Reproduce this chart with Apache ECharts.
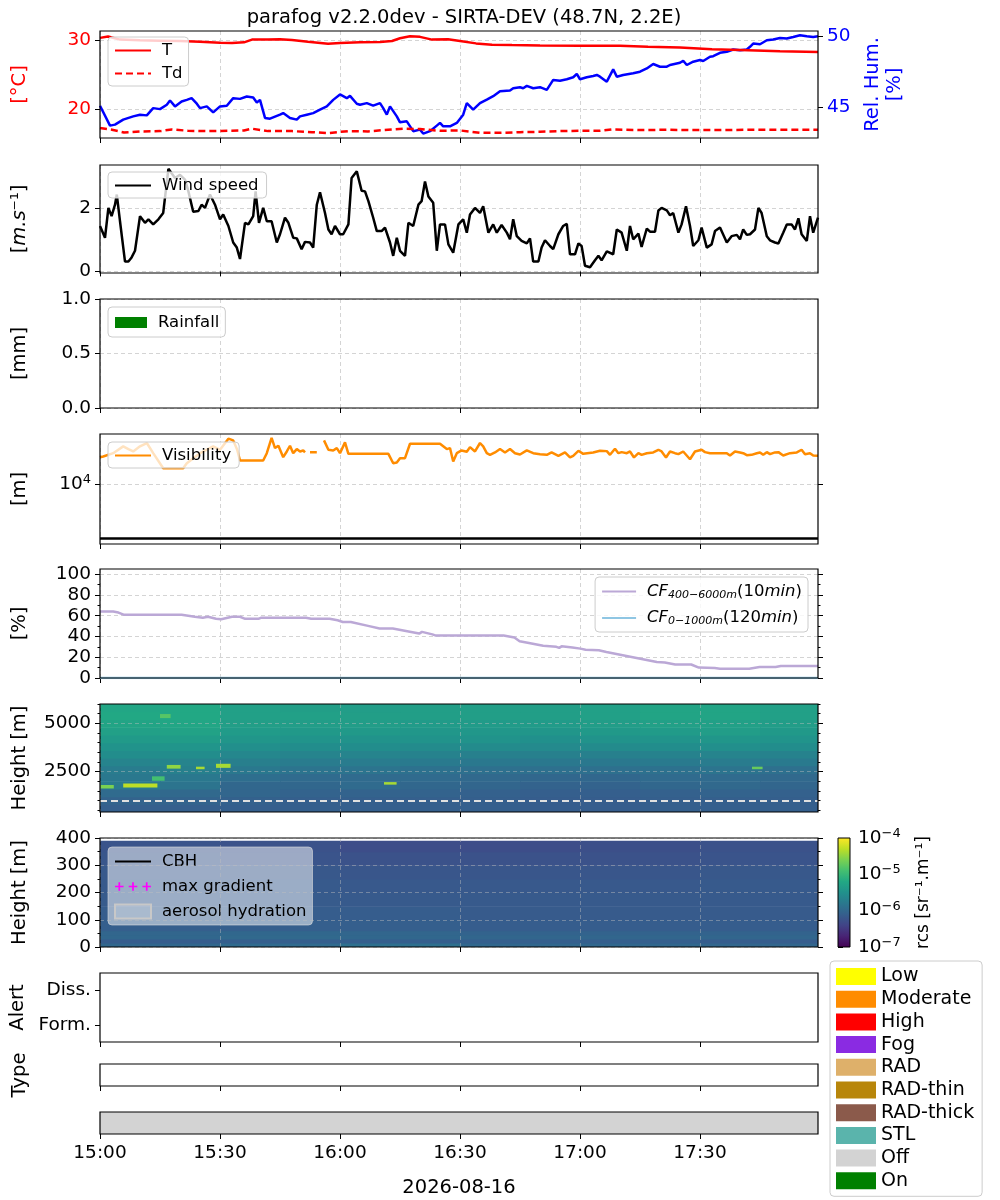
<!DOCTYPE html>
<html>
<head>
<meta charset="utf-8">
<title>parafog SIRTA-DEV</title>
<script src="https://cdn.jsdelivr.net/npm/echarts@6.0.0/dist/echarts.min.js"></script>
<style>
  html, body { margin: 0; padding: 0; background: #fff; }
  #chart { width: 1000px; height: 1200px; }
</style>
</head>
<body>
<div id="chart"></div>
<script>
// ---- values (time = minutes after 15:00) ----
var xTickValues = [0, 30, 60, 90, 120, 150];
var xTickLabels = ['15:00', '15:30', '16:00', '16:30', '17:00', '17:30'];
var xEnd = 179.5;
var dateLabel = '2026-08-16';
var titleText = 'parafog v2.2.0dev - SIRTA-DEV (48.7N, 2.2E)';

var tempTime = [0, 2, 5, 10, 15, 20, 25, 30, 33, 36, 38, 42, 45, 48, 52, 57, 60, 65, 70, 73, 75, 77.5, 80, 83, 87, 90, 94, 98, 103, 110, 120, 130, 137, 145, 153, 160, 170, 179.5];
var tempVals = [30.35, 30.55, 30.1, 30.0, 29.95, 29.9, 29.8, 29.65, 29.6, 29.7, 30.1, 30.1, 30.15, 30.05, 29.8, 29.5, 29.6, 29.7, 29.75, 29.9, 30.3, 30.6, 30.5, 30.1, 30.15, 29.9, 29.55, 29.35, 29.3, 29.25, 29.2, 29.2, 29.05, 28.95, 28.7, 28.6, 28.4, 28.3];

var dewTime = [0, 3, 6, 10, 15, 18, 22, 27, 32, 36, 38, 42, 48, 53, 57, 62, 67, 72, 76, 80, 85, 90, 95, 100, 105, 110, 115, 120, 125, 128, 135, 142, 148, 155, 162, 170, 179.5];
var dewVals = [17.25, 17.0, 16.6, 16.75, 16.8, 17.05, 16.85, 16.8, 16.85, 16.9, 17.15, 16.8, 16.8, 16.65, 16.5, 16.8, 16.75, 17.0, 17.15, 17.1, 16.85, 16.9, 16.55, 16.55, 16.65, 16.7, 16.8, 16.85, 16.85, 17.05, 16.95, 17.0, 16.95, 16.95, 17.0, 17.0, 17.0];

var rhTime = [0, 2.5, 3.75, 5.8, 8.3, 10, 11.7, 13.3, 15, 16.7, 17.5, 18.75, 20.4, 21.7, 22.9, 24.2, 25, 26.7, 28.3, 30, 31.7, 33.3, 35, 36.7, 38.3, 39.2, 40, 41.25, 42.5, 45, 45.8, 47.5, 49.2, 50, 51.7, 53.3, 55, 56.7, 58.3, 60, 61.7, 62.5, 64.2, 65, 66.7, 68.3, 70, 70.8, 71.7, 72.5, 74.2, 75, 76.7, 78.3, 80, 80.8, 82.5, 84.2, 85, 85.8, 87.5, 89.2, 90.8, 91.7, 93.3, 95, 96.7, 98.3, 100, 102.5, 103.3, 105, 105.8, 106.7, 108.3, 110, 111.7, 113.3, 115, 116.7, 118.3, 119.2, 120, 121.7, 123.3, 124.2, 125, 126.7, 128.3, 129.2, 130.8, 133.3, 135, 136.7, 138.3, 140, 141.7, 142.5, 145, 145.8, 146.7, 148.3, 150, 150.8, 152.5, 153.3, 155, 156.7, 158.3, 160, 161.7, 162.5, 163.3, 165, 166.7, 168.3, 170, 171.7, 173.3, 175, 176.7, 178.3, 179.5];
var rhVals = [45.12, 43.72, 43.79, 44.14, 44.37, 44.49, 44.44, 44.95, 44.88, 45.19, 45.49, 45.07, 45.42, 45.53, 45.65, 45.26, 44.95, 45.07, 44.65, 45.07, 45.12, 45.65, 45.6, 45.77, 45.7, 45.35, 45.53, 44.26, 44.21, 44.49, 44.6, 44.26, 44.14, 44.37, 44.49, 44.6, 44.84, 45.07, 45.53, 45.91, 45.65, 45.81, 45.26, 45.19, 45.3, 45.12, 45.3, 44.95, 44.49, 45.07, 44.37, 43.95, 44.02, 43.33, 43.44, 43.16, 43.33, 43.72, 43.91, 43.67, 43.67, 43.91, 44.49, 45.3, 44.84, 45.3, 45.55, 45.79, 46.14, 46.19, 46.35, 46.42, 46.35, 46.51, 46.35, 46.42, 46.23, 46.93, 46.88, 46.98, 47.12, 47.35, 46.98, 47.12, 47.21, 47.28, 47.16, 46.81, 47.67, 47.16, 47.28, 47.4, 47.51, 47.74, 48.05, 47.86, 47.86, 47.98, 48.14, 48.28, 47.98, 48.21, 48.33, 48.26, 48.56, 48.6, 48.84, 48.91, 49.07, 49.02, 49.07, 49.26, 49.49, 49.44, 49.72, 49.77, 49.88, 49.84, 49.95, 50.07, 50.0, 49.95, 50.0];

var windTime = [0, 1.25, 2.1, 2.9, 3.75, 4.2, 5, 6.25, 7.1, 7.9, 8.75, 10, 11.25, 12.1, 13.3, 14.6, 15.8, 16.25, 17.1, 17.9, 18.75, 20, 21.25, 22.1, 23.3, 24.6, 25.4, 26.25, 27.5, 28.75, 30, 30.8, 32.1, 33.3, 34.2, 35, 36.25, 37.1, 38.3, 38.9, 39.75, 40.8, 41.7, 42.9, 44.2, 45, 46.25, 47.1, 48.3, 49.2, 50.4, 51.25, 52.5, 53.3, 54.2, 55, 56.25, 57.1, 57.9, 58.75, 60, 60.8, 62.1, 62.9, 64.2, 65.4, 66.25, 67.1, 68.3, 69.2, 70.4, 71.25, 72.5, 73.3, 74.2, 75, 76.25, 77.1, 78.3, 79.6, 80.4, 81.25, 82.1, 83.3, 84.2, 85, 86.25, 87.1, 88.3, 89.6, 90.8, 91.7, 92.5, 93.75, 95, 95.8, 97.1, 98.3, 99.2, 100.4, 101.7, 102.5, 103.3, 104.2, 105.4, 106.7, 107.5, 108.3, 109.6, 110.4, 111.25, 112.5, 113.3, 114.6, 115.8, 116.7, 117.5, 118.75, 119.6, 120.4, 121.25, 122.5, 123.75, 124.6, 125.4, 126.7, 128.3, 129.2, 130.4, 131.7, 132.5, 133.3, 134.6, 135.4, 136.7, 137.5, 138.75, 139.6, 140.4, 141.7, 142.5, 143.3, 144.6, 145.4, 146.5, 147.5, 148.3, 149.6, 150.4, 151.7, 152.9, 153.75, 155, 156.7, 157.9, 159.2, 160, 160.8, 161.7, 162.5, 163.75, 164.6, 165.4, 166.7, 167.5, 168.75, 169.6, 170.8, 171.7, 172.9, 173.75, 174.6, 175.4, 176.7, 177.5, 178.3, 179.5];
var windVals = [1.43, 1.06, 2.0, 1.74, 2.1, 2.42, 1.58, 0.31, 0.31, 0.44, 0.65, 1.74, 1.53, 1.64, 1.48, 1.64, 1.84, 1.9, 3.23, 3.09, 2.94, 3.04, 2.89, 2.52, 1.88, 1.9, 2.1, 2.0, 2.42, 2.1, 1.64, 1.79, 1.43, 0.91, 0.75, 0.39, 1.53, 1.48, 1.74, 2.52, 1.53, 2.0, 1.58, 1.58, 0.91, 1.17, 1.69, 1.53, 1.06, 1.04, 0.7, 0.93, 0.91, 0.75, 2.1, 2.49, 1.84, 1.32, 1.17, 1.43, 1.17, 1.17, 1.48, 2.94, 3.15, 2.54, 2.52, 2.21, 1.69, 1.27, 1.27, 1.38, 0.91, 0.49, 1.06, 0.65, 0.49, 1.53, 1.43, 2.1, 2.21, 2.83, 2.36, 2.16, 0.65, 1.48, 1.48, 0.85, 0.59, 1.48, 1.64, 1.22, 1.79, 2.0, 1.84, 2.05, 1.22, 1.48, 1.22, 1.46, 1.22, 1.01, 1.64, 1.11, 0.96, 0.88, 1.04, 0.31, 0.31, 0.75, 0.98, 0.8, 0.7, 1.17, 1.43, 1.5, 0.54, 0.54, 0.88, 0.8, 0.18, 0.13, 0.35, 0.49, 0.35, 0.63, 0.54, 1.32, 1.22, 0.65, 1.43, 1.01, 1.19, 0.77, 1.35, 1.25, 1.25, 1.92, 2.0, 1.92, 1.77, 1.84, 1.22, 1.48, 2.05, 1.43, 0.8, 0.98, 1.38, 0.75, 0.85, 1.27, 1.38, 0.91, 1.11, 1.15, 1.01, 1.32, 1.15, 1.17, 1.32, 2.0, 1.84, 1.11, 0.98, 0.91, 0.88, 1.22, 1.48, 1.48, 1.32, 1.67, 1.17, 0.96, 1.74, 1.22, 1.69];

var rainTime = [];
var rainVals = [];

// visibility in metres, null = missing
var visTime = [0, 0.8, 3.3, 5.8, 7.1, 8.3, 10, 11.7, 13.3, 15.8, 20.8, 21.7, 25, 28.3, 30, 32.1, 33.3, 34.3, 35, 40.8, 41.7, 42.9, 43.75, 44.6, 45.8, 46.7, 47.5, 48.3, 49.2, 50, 50.8, 51.25, 52, 52.5, 54.2, 55, 56, 57.1, 58.3, 59.2, 60, 61.25, 62.1, 72.1, 73.3, 74.2, 75, 76.25, 77.5, 85, 86.7, 87.5, 88.3, 89.2, 90.4, 91.7, 92.5, 93.75, 95, 95.8, 96.7, 97.5, 98.75, 100, 101.25, 102.5, 103.75, 105, 106.7, 108.3, 110, 111.7, 112.9, 114.6, 116.25, 117.5, 118.3, 119.6, 120.8, 123.3, 125, 126.7, 127.5, 128.75, 129.6, 130.4, 131.7, 132.5, 133.5, 134.6, 135.4, 136.7, 138.3, 139.6, 140.4, 141.5, 142.5, 143.75, 144.6, 145.8, 147.5, 148.75, 150.4, 151.25, 152.5, 155, 156.7, 157.5, 158.75, 160, 160.8, 161.7, 162.9, 164.2, 165, 165.8, 166.7, 167.5, 168.75, 169.6, 170.8, 172.5, 174.2, 175.4, 176.25, 177.5, 178.3, 179.5];
var visVals = [31400, 32300, 37200, 49700, 44300, 40000, 49700, 57300, 37200, 19600, 19600, 24300, 37200, 49700, 43000, 69000, 64100, 43000, 27200, 27200, 37200, 71000, 46200, 51000, 31400, 40000, 51000, 37200, 44300, 40000, 41800, 38400, null, 38900, 38900, null, 64100, 43000, 41800, 46200, 37200, 58900, 36200, 36200, 24300, 25000, 30100, 30100, 55600, 55600, 44300, 46200, 26100, 37200, 41800, 39500, 48200, 40000, 57300, 49700, 37200, 34700, 38400, 44300, 38400, 44300, 37200, 35200, 41800, 37200, 35700, 34700, 38400, 33300, 38400, 31000, 33300, 41200, 36200, 38400, 41200, 40600, 34700, 44900, 37200, 38900, 37200, 40000, 31000, 37200, 34700, 37200, 38400, 43000, 40000, 31000, 40000, 37200, 35700, 40000, 28800, 40000, 43000, 38900, 37200, 37200, 37200, 33700, 40000, 38400, 37200, 34200, 34700, 37200, 38400, 34700, 38900, 35700, 38400, 38900, 33700, 37200, 38400, 43000, 35700, 37200, 33700, 33300];
var fogVisThreshold = 1000;

var cfTime = [0, 3.3, 4.6, 5.9, 20.4, 23.7, 25.7, 27, 29, 30.3, 33, 35, 36.3, 39.6, 40.2, 51.5, 52.8, 57.4, 59.4, 60.7, 62.7, 67.3, 69.9, 73.2, 77.8, 79.8, 80.5, 83.1, 83.8, 100.9, 103.6, 104.9, 106.9, 110.8, 114.1, 114.8, 115.4, 118.1, 120.1, 121.4, 124.7, 126.6, 133.2, 139.2, 141.2, 143.8, 147.8, 149.7, 153.7, 155, 162.3, 164.9, 168.9, 170.2, 179.5];
var cfVals = [64, 64, 63, 61, 61, 59, 58, 59, 57, 56.6, 59, 59, 57, 57, 58, 58, 57, 57, 55.6, 54, 54, 50, 47.6, 47.6, 44.4, 42.8, 44.4, 42, 41, 41, 39, 35.4, 34, 31, 30, 29, 30.5, 29.3, 28.3, 27.3, 26.7, 25, 20, 15.4, 15, 13, 13, 10, 9.6, 9, 9, 10.6, 10.6, 11.6, 11.6];
var cfLowTime = [0, 179.5];
var cfLowVals = [0, 0];

// lidar range-corrected signal, log10 values, cells: time bins x height bins
var lidarTimeBounds = [0, 15, 30, 45, 60, 75, 90, 105, 120, 135, 150, 165, 180];
var lidarHighBounds = [400, 800, 1200, 1600, 2000, 2400, 2800, 3200, 3600, 4000, 4400, 4800, 5200, 5600, 6000];
var lidarHighLog = [
  [-6.10, -6.10, -6.10, -6.10, -6.10, -6.10, -6.10, -6.12, -6.12, -6.10, -6.10, -6.10],
  [-6.05, -6.05, -6.08, -6.10, -6.10, -6.10, -6.10, -6.12, -6.12, -6.10, -6.10, -6.10],
  [-5.95, -5.98, -6.02, -6.05, -6.05, -6.05, -6.08, -6.10, -6.10, -6.08, -6.05, -6.08],
  [-5.78, -5.85, -6.00, -6.00, -5.95, -6.00, -6.02, -6.05, -6.05, -6.00, -5.98, -6.02],
  [-5.80, -5.80, -5.92, -5.95, -5.95, -5.95, -5.98, -6.00, -6.00, -5.95, -5.95, -5.98],
  [-5.75, -5.70, -5.80, -5.85, -5.85, -5.88, -5.90, -5.90, -5.90, -5.88, -5.85, -5.90],
  [-5.65, -5.65, -5.72, -5.75, -5.75, -5.78, -5.80, -5.80, -5.80, -5.78, -5.75, -5.78],
  [-5.55, -5.55, -5.62, -5.65, -5.65, -5.68, -5.70, -5.70, -5.70, -5.68, -5.65, -5.68],
  [-5.47, -5.45, -5.52, -5.55, -5.55, -5.57, -5.57, -5.59, -5.57, -5.55, -5.52, -5.55],
  [-5.38, -5.36, -5.44, -5.46, -5.48, -5.48, -5.48, -5.51, -5.48, -5.46, -5.44, -5.46],
  [-5.30, -5.28, -5.37, -5.40, -5.40, -5.42, -5.42, -5.43, -5.40, -5.37, -5.35, -5.40],
  [-5.25, -5.22, -5.33, -5.35, -5.35, -5.37, -5.37, -5.37, -5.35, -5.30, -5.30, -5.35],
  [-5.20, -5.20, -5.30, -5.30, -5.33, -5.33, -5.33, -5.33, -5.30, -5.25, -5.25, -5.30],
  [-5.23, -5.20, -5.30, -5.33, -5.35, -5.33, -5.33, -5.33, -5.30, -5.25, -5.25, -5.30]
];
// bright returns: [t0, t1, h0, h1, log10]
var lidarSpots = [
  [0, 3.3, 1650, 1800, -4.6],
  [5.8, 14.2, 1700, 1880, -4.3],
  [13, 16, 2050, 2250, -4.9],
  [16.7, 20, 2680, 2840, -4.5],
  [24, 26, 2650, 2750, -4.4],
  [29, 32.5, 2720, 2900, -4.4],
  [15, 17.5, 5300, 5480, -4.8],
  [71, 74, 1850, 1950, -4.4],
  [163, 165.5, 2650, 2750, -4.7]
];
var lidarRefHeight = 1000;

var lidarLowTimeBounds = [0, 30, 60, 90, 120, 150, 180];
var lidarLowBounds = [0, 15, 30, 45, 60, 100, 150, 200, 250, 300, 350, 390];
var lidarLowLog = [
  [-6.00, -5.95, -5.90, -6.00, -6.00, -6.02],
  [-6.12, -6.10, -6.10, -6.10, -6.10, -6.12],
  [-6.00, -5.98, -6.00, -6.02, -6.02, -6.02],
  [-6.02, -6.00, -6.02, -6.05, -6.05, -6.05],
  [-6.10, -6.10, -6.10, -6.12, -6.12, -6.12],
  [-6.12, -6.12, -6.12, -6.14, -6.14, -6.14],
  [-6.14, -6.14, -6.15, -6.15, -6.15, -6.15],
  [-6.15, -6.16, -6.17, -6.17, -6.17, -6.16],
  [-6.17, -6.18, -6.20, -6.20, -6.20, -6.18],
  [-6.20, -6.22, -6.25, -6.25, -6.25, -6.22],
  [-6.22, -6.25, -6.30, -6.30, -6.28, -6.25]
];
var cbTickValues = [-7, -6, -5, -4];
var cbTickExp = ['−7', '−6', '−5', '−4'];

var alertLevels = ['Form.', 'Diss.'];
var statusStart = [0];
var statusEnd = [179.5];
var statusState = ['Off'];

var stateNames = ['Low', 'Moderate', 'High', 'Fog', 'RAD', 'RAD-thin', 'RAD-thick', 'STL', 'Off', 'On'];
var stateColors = ['#ffff00', '#ff8c00', '#ff0000', '#8a2be2', '#deb06a', '#b8860b', '#8b5a4b', '#5ab4ac', '#d3d3d3', '#008000'];

var viridis = ['#440154', '#482475', '#414487', '#355f8d', '#2a788e', '#21918c', '#22a884', '#44bf70', '#7ad151', '#bddf26', '#fde725'];

// ---- helpers ----
function zip(xs, ys) {
  return xs.map(function (x, i) { return [x, ys[i] === null ? '-' : ys[i]]; });
}
function cells(tb, hb, rows) {
  var out = [];
  rows.forEach(function (row, i) {
    row.forEach(function (v, j) { out.push([tb[j], tb[j + 1], hb[i], hb[i + 1], v]); });
  });
  return out;
}
function cellItem(params, api) {
  var a = api.coord([api.value(0), api.value(3)]);
  var b = api.coord([api.value(1), api.value(2)]);
  return {
    type: 'rect',
    shape: { x: a[0], y: a[1], width: b[0] - a[0] + 0.6, height: b[1] - a[1] + 0.6 },
    style: { fill: api.visual('color') }
  };
}

var FONT = 'DejaVu Sans';
var TICK_FS = 18.5, NAME_FS = 19.5, LEG_FS = 16.5;
var tops = [31, 165, 299, 434, 569, 704, 838, 973, 1064, 1112];
var heights = [107, 108, 109, 110, 109, 108, 109, 69, 22, 22];
var grids = tops.map(function (t, i) {
  return { left: 100, top: t, width: 718, height: heights[i], show: true, borderColor: '#000', borderWidth: 1.2,
           backgroundColor: 'rgba(0,0,0,0)', z: 20, outerBoundsMode: 'none' };
});
grids.push({ left: 838, top: 838, width: 12, height: 109, show: true, borderColor: '#000', borderWidth: 1,
             backgroundColor: 'rgba(0,0,0,0)', z: 20, outerBoundsMode: 'none' });

var gridDash = { type: [4, 3], color: '#d4d4d4', width: 1 };
var heatDash = { type: [4, 3], color: 'rgba(190,190,190,0.45)', width: 1 };
var supRich = {
  b: { fontSize: TICK_FS, fontFamily: FONT, color: '#000' },
  s: { fontSize: 13, fontFamily: FONT, color: '#000', verticalAlign: 'top', padding: [0, 0, 9, 0] }
};

var xAxes = tops.map(function (t, i) {
  return {
    type: 'value', gridIndex: i, min: 0, max: xEnd, interval: 30,
    z: (i === 5 || i === 6) ? 12 : 0,
    axisLine: { show: false },
    axisTick: { show: true, length: 5, customValues: xTickValues, lineStyle: { color: '#000', width: 1 } },
    axisLabel: { show: i === 9, customValues: xTickValues, fontSize: TICK_FS, color: '#000', fontFamily: FONT, margin: 10,
                 formatter: function (v) { return xTickLabels[xTickValues.indexOf(v)]; } },
    splitLine: { show: i <= 6, lineStyle: (i === 5 || i === 6) ? heatDash : gridDash },
    name: i === 9 ? dateLabel : '', nameLocation: 'middle', nameGap: 44,
    nameTextStyle: { fontSize: NAME_FS, color: '#000', fontFamily: FONT }
  };
});
xAxes.push({ type: 'value', gridIndex: 10, min: 0, max: 1, show: false });

var NAMEGAP = 70;
function yAxis(gi, o) {
  var ax = {
    type: 'value', gridIndex: gi, position: 'left',
    axisLine: { show: false },
    axisTick: { show: true, length: 5, lineStyle: { color: '#000', width: 1 } },
    axisLabel: { fontSize: TICK_FS, color: '#000', fontFamily: FONT, margin: 9 },
    splitLine: { show: false },
    nameLocation: 'middle', nameRotate: 90, nameGap: NAMEGAP,
    nameTextStyle: { fontSize: NAME_FS, color: '#000', fontFamily: FONT }
  };
  for (var k in o) {
    if (o[k] && typeof o[k] === 'object' && !Array.isArray(o[k]) && ax[k] && typeof ax[k] === 'object') {
      ax[k] = Object.assign({}, ax[k], o[k]);
    } else {
      ax[k] = o[k];
    }
  }
  return ax;
}
function tickAxis(gi, pos, type, min, max, values, len) {
  return {
    type: type, gridIndex: gi, position: pos, min: min, max: max,
    axisLine: { show: false },
    axisTick: { show: true, length: len, customValues: values, lineStyle: { color: '#000', width: 1 } },
    axisLabel: { show: false, customValues: values },
    splitLine: { show: false }
  };
}

var yAxes = [];
function addY(a) { yAxes.push(a); return yAxes.length - 1; }

var yT = addY(yAxis(0, { min: 15.8, max: 31.35, name: '[°C]',
  nameTextStyle: { color: '#ff0000' },
  axisTick: { customValues: [20, 30] },
  axisLabel: { customValues: [20, 30], color: '#ff0000' },
  splitLine: { show: true, lineStyle: gridDash } }));
var yRH = addY(yAxis(0, { position: 'right', min: 42.85, max: 50.37, name: 'Rel. Hum.\n[%]', nameGap: 32,
  nameTextStyle: { color: '#0000ff', lineHeight: 22 },
  axisTick: { customValues: [45, 50] },
  axisLabel: { customValues: [45, 50], color: '#0000ff' } }));
var yWind = addY(yAxis(1, { min: -0.05, max: 3.35, name: '[{i|m.s}⁻¹]',
  nameTextStyle: { rich: { i: { fontStyle: 'italic', fontSize: NAME_FS, fontFamily: FONT, color: '#000' } } },
  axisTick: { customValues: [0, 2] },
  axisLabel: { customValues: [0, 2] },
  splitLine: { show: true, lineStyle: gridDash } }));
var yRain = addY(yAxis(2, { min: 0, max: 1, name: '[mm]',
  axisTick: { customValues: [0, 0.5, 1] },
  axisLabel: { customValues: [0, 0.5, 1], formatter: function (v) { return v.toFixed(1); } },
  splitLine: { show: true, lineStyle: gridDash } }));
var yVis = addY(yAxis(3, { type: 'log', logBase: 10, min: 787, max: 84000, name: '[m]',
  axisTick: { customValues: [10000] },
  axisLabel: { customValues: [10000], formatter: function () { return '{b|10}{s|4}'; }, rich: supRich },
  splitLine: { show: true, lineStyle: gridDash } }));
addY(tickAxis(3, 'right', 'log', 787, 84000, [10000], 5));
var yCF = addY(yAxis(4, { min: 0, max: 105, name: '[%]',
  axisTick: { customValues: [0, 20, 40, 60, 80, 100] },
  axisLabel: { customValues: [0, 20, 40, 60, 80, 100] },
  splitLine: { show: true, lineStyle: gridDash } }));
addY(tickAxis(4, 'right', 'value', 0, 105, [0, 20, 40, 60, 80, 100], 5));
addY(tickAxis(4, 'left', 'value', 0, 105, [10, 30, 50, 70, 90], 2.5));
addY(tickAxis(4, 'right', 'value', 0, 105, [10, 30, 50, 70, 90], 2.5));
var yHi = addY(yAxis(5, { min: 400, max: 6000, name: 'Height [m]', z: 12,
  axisTick: { customValues: [2500, 5000] },
  axisLabel: { customValues: [2500, 5000], formatter: function (v) { return String(v); } },
  splitLine: { show: true, lineStyle: heatDash } }));
addY(tickAxis(5, 'right', 'value', 400, 6000, [2500, 5000], 5));
addY(tickAxis(5, 'left', 'value', 400, 6000, [500, 1000, 1500, 2000, 3000, 3500, 4000, 4500, 5500, 6000], 2.5));
addY(tickAxis(5, 'right', 'value', 400, 6000, [500, 1000, 1500, 2000, 3000, 3500, 4000, 4500, 5500, 6000], 2.5));
var yLo = addY(yAxis(6, { min: 0, max: 400, name: 'Height [m]', z: 12,
  axisTick: { customValues: [0, 100, 200, 300, 400] },
  axisLabel: { customValues: [0, 100, 200, 300, 400] },
  splitLine: { show: true, lineStyle: heatDash } }));
addY(tickAxis(6, 'right', 'value', 0, 400, [0, 100, 200, 300, 400], 5));
addY(tickAxis(6, 'left', 'value', 0, 400, [50, 150, 250, 350], 2.5));
addY(tickAxis(6, 'right', 'value', 0, 400, [50, 150, 250, 350], 2.5));
var yAlert = addY(yAxis(7, { type: 'category', data: alertLevels, name: 'Alert',
  axisTick: { alignWithLabel: true } }));
var yType = addY(yAxis(8, { min: 0, max: 1, name: 'Type', axisTick: { show: false }, axisLabel: { show: false } }));
var yStatus = addY(yAxis(9, { min: 0, max: 1, axisTick: { show: false }, axisLabel: { show: false } }));
var yCb = addY(yAxis(10, { position: 'right', min: -7, max: -4, name: 'rcs [sr⁻¹.m⁻¹]', nameGap: 65,
  nameTextStyle: { fontSize: 17 },
  axisTick: { customValues: cbTickValues },
  axisLabel: { customValues: cbTickValues, margin: 8, rich: supRich,
               formatter: function (v) { return '{b|10}{s|' + cbTickExp[cbTickValues.indexOf(v)] + '}'; } } }));

// ---- series ----
var series = [];
function add(s) { series.push(s); return series.length - 1; }

add({ name: 'T', type: 'line', xAxisIndex: 0, yAxisIndex: yT, data: zip(tempTime, tempVals), symbol: 'none',
      lineStyle: { color: '#ff0000', width: 2.5 }, itemStyle: { color: '#ff0000' }, z: 3 });
add({ name: 'Td', type: 'line', xAxisIndex: 0, yAxisIndex: yT, data: zip(dewTime, dewVals), symbol: 'none',
      lineStyle: { color: '#ff0000', width: 2.5, type: [7, 4] }, itemStyle: { color: '#ff0000' }, z: 3 });
add({ name: 'RH', type: 'line', xAxisIndex: 0, yAxisIndex: yRH, data: zip(rhTime, rhVals), symbol: 'none',
      lineStyle: { color: '#0000ff', width: 2.5 }, itemStyle: { color: '#0000ff' }, z: 2 });

add({ name: 'Wind speed', type: 'line', xAxisIndex: 1, yAxisIndex: yWind, data: zip(windTime, windVals), symbol: 'none',
      lineStyle: { color: '#000', width: 2.5 }, itemStyle: { color: '#000' } });

add({ name: 'Rainfall', type: 'bar', xAxisIndex: 2, yAxisIndex: yRain, data: zip(rainTime, rainVals),
      itemStyle: { color: '#008000' } });

add({ name: 'Visibility', type: 'line', xAxisIndex: 3, yAxisIndex: yVis, data: zip(visTime, visVals), symbol: 'none',
      connectNulls: false, lineStyle: { color: '#ff8c00', width: 2.5 }, itemStyle: { color: '#ff8c00' },
      markLine: { silent: true, symbol: 'none', label: { show: false }, animation: false,
                  lineStyle: { color: '#000', type: 'solid', width: 2.5 }, data: [{ yAxis: fogVisThreshold }] } });

add({ name: 'CF400', type: 'line', xAxisIndex: 4, yAxisIndex: yCF, data: zip(cfTime, cfVals), symbol: 'none',
      lineStyle: { color: '#bba8d6', width: 2.5 }, itemStyle: { color: '#bba8d6' } });
add({ name: 'CF0', type: 'line', xAxisIndex: 4, yAxisIndex: yCF, data: zip(cfLowTime, cfLowVals), symbol: 'none',
      lineStyle: { color: '#8fc6e3', width: 2.5 }, itemStyle: { color: '#8fc6e3' } });

var sHi = add({ name: 'rcsHigh', type: 'custom', xAxisIndex: 5, yAxisIndex: yHi, clip: true,
      data: cells(lidarTimeBounds, lidarHighBounds, lidarHighLog), renderItem: cellItem,
      encode: { x: [0, 1], y: [2, 3] },
      markLine: { silent: true, symbol: 'none', label: { show: false }, animation: false,
                  lineStyle: { color: '#e0e0e0', type: [7, 4], width: 2 }, data: [{ yAxis: lidarRefHeight }] } });
var sSpot = add({ name: 'rcsSpots', type: 'custom', xAxisIndex: 5, yAxisIndex: yHi, clip: true, z: 3,
      data: lidarSpots, renderItem: cellItem, encode: { x: [0, 1], y: [2, 3] } });
var sLo = add({ name: 'rcsLow', type: 'custom', xAxisIndex: 6, yAxisIndex: yLo, clip: true,
      data: cells(lidarLowTimeBounds, lidarLowBounds, lidarLowLog), renderItem: cellItem,
      encode: { x: [0, 1], y: [2, 3] } });
add({ name: 'CBH', type: 'line', xAxisIndex: 6, yAxisIndex: yLo, data: [], symbol: 'none',
      lineStyle: { color: '#000', width: 2.5 }, itemStyle: { color: '#000' } });
add({ name: 'max gradient', type: 'scatter', xAxisIndex: 6, yAxisIndex: yLo, data: [],
      itemStyle: { color: '#ff00ff' } });
add({ name: 'aerosol hydration', type: 'custom', xAxisIndex: 6, yAxisIndex: yLo, data: [], renderItem: cellItem,
      itemStyle: { color: 'rgba(255,255,255,0.15)' } });

// colour bar
add({ name: 'colorbar', type: 'custom', xAxisIndex: 10, yAxisIndex: yCb, data: [[0, 1, cbTickValues[0], cbTickValues[3]]],
      encode: { x: [0, 1], y: [2, 3] },
      renderItem: function (params, api) {
        var a = api.coord([api.value(0), api.value(3)]);
        var b = api.coord([api.value(1), api.value(2)]);
        return { type: 'rect', shape: { x: a[0], y: a[1], width: b[0] - a[0], height: b[1] - a[1] },
                 style: { fill: new echarts.graphic.LinearGradient(0, 1, 0, 0,
                   viridis.map(function (c, i) { return { offset: i / (viridis.length - 1), color: c }; })) } };
      } });

// status / alert categories (only 'Off' has data)
stateNames.forEach(function (nm, i) {
  var segs = [];
  statusState.forEach(function (st, k) { if (st === nm) segs.push([statusStart[k], statusEnd[k]]); });
  add({ name: nm, type: 'custom', xAxisIndex: 9, yAxisIndex: yStatus, data: segs, clip: true,
        itemStyle: { color: stateColors[i] },
        encode: { x: [0, 1] },
        renderItem: function (params, api) {
          var a = api.coord([api.value(0), 0]);
          var b = api.coord([api.value(1), 0]);
          var cs = params.coordSys;
          return { type: 'rect', shape: { x: a[0], y: cs.y, width: b[0] - a[0], height: cs.height },
                   style: { fill: stateColors[i] } };
        } });
});

var legBox = { backgroundColor: 'rgba(255,255,255,0.8)', borderColor: '#cccccc', borderWidth: 1, borderRadius: 4,
               orient: 'vertical', selectedMode: false, itemWidth: 36, itemHeight: 14,
               itemStyle: { opacity: 0 },
               textStyle: { fontSize: LEG_FS, color: '#000', fontFamily: FONT, padding: [0, 0, 0, 6] } };
function legend(o) { return Object.assign({}, legBox, o); }

var plusPath = 'path://M0,4H2V2H3V4H5V5H3V7H2V5H0Z M8,4H10V2H11V4H13V5H11V7H10V5H8Z M16,4H18V2H19V4H21V5H19V7H18V5H16Z';

var option = {
  animation: false,
  backgroundColor: '#ffffff',
  textStyle: { fontFamily: FONT },
  title: { text: titleText, left: 459, top: 3, textAlign: 'center',
           textStyle: { fontSize: 19.5, fontWeight: 'normal', color: '#000', fontFamily: FONT } },
  grid: grids,
  xAxis: xAxes,
  yAxis: yAxes,
  visualMap: [{ type: 'continuous', show: false, min: -7, max: -4, dimension: 4,
                seriesIndex: [sHi, sSpot, sLo], inRange: { color: viridis } }],
  legend: [
    legend({ data: ['T', 'Td'], left: 108, top: 37, padding: [5, 6, 4, 6], itemGap: 6 }),
    legend({ data: ['Wind speed'], left: 108, top: 172, padding: [5, 8, 4, 6] }),
    legend({ data: [{ name: 'Rainfall', icon: 'rect', itemStyle: { opacity: 1 } }], left: 108, top: 307,
             padding: [7, 6, 6, 7], itemWidth: 32, itemHeight: 11 }),
    legend({ data: ['Visibility'], left: 108, top: 442, padding: [5, 8, 4, 6], backgroundColor: 'rgba(255,255,255,0.75)' }),
    legend({ data: ['CF400', 'CF0'], right: 192, top: 577, padding: [6, 6, 5, 6], itemGap: 9, itemWidth: 34,
             formatter: function (n) {
               return n === 'CF400' ? '{it|CF}{sub|400−6000m}{n|(10}{it|min}{n|)}' : '{it|CF}{sub|0−1000m}{n|(120}{it|min}{n|)}';
             },
             textStyle: { fontSize: LEG_FS, color: '#000', fontFamily: FONT, padding: [0, 0, 0, 6],
               rich: { it: { fontStyle: 'italic', fontSize: LEG_FS, fontFamily: FONT },
                       n: { fontSize: LEG_FS, fontFamily: FONT },
                       sub: { fontStyle: 'italic', fontSize: 11, fontFamily: FONT, verticalAlign: 'bottom', padding: [7, 0, 0, 0] } } } }),
    legend({ data: ['CBH',
                    { name: 'max gradient', icon: plusPath, itemStyle: { opacity: 1, color: '#ff00ff' } },
                    { name: 'aerosol hydration', icon: 'rect', itemStyle: { opacity: 1, color: 'rgba(255,255,255,0.15)', borderColor: '#c8c8c8', borderWidth: 2 } }],
             left: 108, top: 847, padding: [6, 6, 5, 6], itemGap: 8, backgroundColor: 'rgba(255,255,255,0.5)', borderColor: 'rgba(220,220,220,0.6)' }),
    legend({ data: stateNames.map(function (n) { return { name: n, icon: 'rect', itemStyle: { opacity: 1 } }; }),
             left: 830, top: 961, padding: [6, 8, 6, 6], itemGap: 3.7, itemWidth: 40, itemHeight: 17,
             backgroundColor: '#fff',
             textStyle: { fontSize: 19, color: '#000', fontFamily: FONT, padding: [0, 0, 0, 0] } })
  ],
  series: series
};

var chart = echarts.init(document.getElementById('chart'), null, { renderer: 'canvas' });
chart.setOption(option);
</script>
</body>
</html>
